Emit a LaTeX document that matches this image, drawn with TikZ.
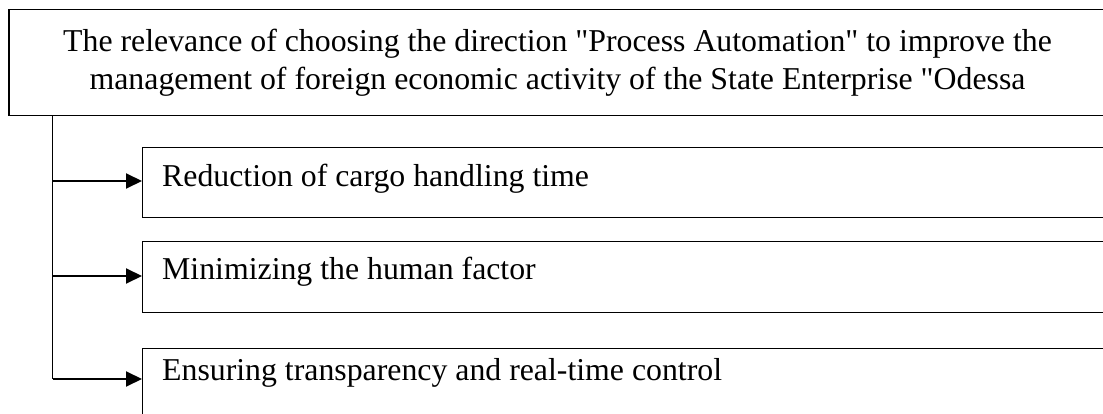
\documentclass[tikz,border=0pt]{standalone}
\usepackage{fontspec}
\setmainfont{Liberation Serif}
\usetikzlibrary{arrows.meta}
\begin{document}
\begin{tikzpicture}[x=1pt,y=-1pt,
  frame/.style={draw=black, line width=1.3pt, rectangle, inner sep=0pt},
  lbl/.style={inner sep=0pt, font=\fontsize{31.8}{38}\selectfont},
  trunk/.style={draw=black, line width=1.3pt},
  arr/.style={draw=black, line width=2pt, -{Triangle[length=16pt,width=15pt]}}]
\useasboundingbox (0,0) rectangle (1103,414);
\clip (0,0) rectangle (1103,414);

% heading box
\node[frame, minimum width=1097pt, minimum height=105.5pt, align=center,
      font=\fontsize{31.8}{38}\selectfont] (top) at (557.5,62.5)
  {The relevance of choosing the direction \textquotedbl Process Automation\textquotedbl{} to improve the\\
   management of foreign economic activity of the State Enterprise \textquotedbl Odessa};

% item boxes
\node[frame, anchor=north west, minimum width=980pt, minimum height=70pt] (b1) at (142,147) {};
\node[frame, anchor=north west, minimum width=980pt, minimum height=71pt] (b2) at (142,241) {};
\node[frame, anchor=north west, minimum width=980pt, minimum height=90pt] (b3) at (142,348) {};

\node[lbl, anchor=base west] (t1) at (162,186.7) {Reduction of cargo handling time};
\node[lbl, anchor=base west] (t2) at (162,279) {Minimizing the human factor};
\node[lbl, anchor=base west] (t3) at (162,380) {Ensuring transparency and real-time control};

% branch points on the trunk
\coordinate (j1) at (52.7,181);
\coordinate (j2) at (52.7,276);
\coordinate (j3) at (52.7,379);

\draw[trunk] (j1 |- top.south) -- (j3);
\draw[arr] (j1) -- (j1 -| b1.west);
\draw[arr] (j2) -- (j2 -| b2.west);
\draw[arr] (j3) -- (j3 -| b3.west);
\end{tikzpicture}
\end{document}
